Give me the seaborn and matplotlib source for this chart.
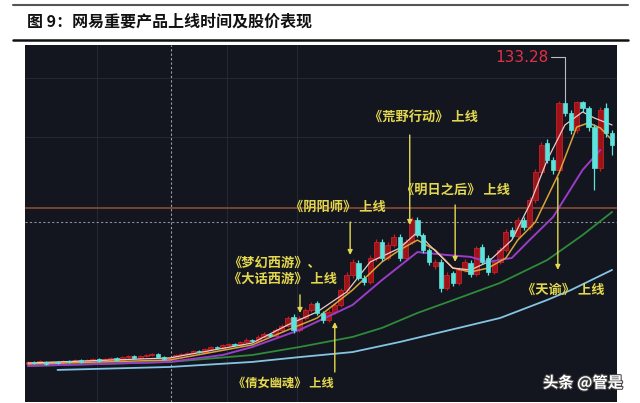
import numpy as np
import pandas as pd
import seaborn as sns
import matplotlib.pyplot as plt
from matplotlib.lines import Line2D
import matplotlib.patheffects as pe

# weekly candles (price)
open_ = [7.6, 8.6, 8.1, 8.6, 7.6, 8.6, 8.1, 9.0, 8.6, 9.5,
         8.6, 9.5, 10.0, 9.0, 10.0, 10.5, 9.5, 10.9, 11.4, 10.5,
         11.4, 11.9, 12.4, 10.9, 10.0, 10.5, 11.9, 12.4, 12.9, 13.8,
         13.3, 14.8, 15.7, 15.2, 16.7, 17.1, 16.7, 18.1, 19.0, 18.6,
         20.5, 21.9, 20.9, 23.8, 25.7, 30.0, 23.8, 29.5, 33.3, 36.7,
         31.9, 28.6, 32.4, 35.7, 42.8, 50.0, 55.7, 48.6, 46.6, 58.1,
         65.7, 58.1, 64.3, 68.1, 58.1, 65.7, 76.2, 69.0, 61.9, 54.3,
         56.2, 43.8, 50.9, 46.2, 52.4, 55.7, 50.5, 63.3, 58.1, 51.4,
         56.2, 61.9, 71.4, 68.5, 76.2, 72.8, 85.7, 99.0, 112.8, 104.7,
         100.0, 131.9, 127.1, 119.0, 132.4, 129.5, 120.4, 100.9, 129.5, 117.6]
close = [8.6, 8.1, 9.0, 7.6, 8.6, 8.3, 9.0, 8.6, 9.5, 8.6,
         9.5, 10.0, 9.0, 10.0, 10.5, 9.5, 10.9, 11.4, 10.5, 11.4,
         11.9, 12.4, 10.9, 10.0, 10.5, 11.9, 12.4, 12.9, 13.8, 13.3,
         14.8, 15.7, 15.2, 16.7, 17.1, 16.7, 18.1, 19.0, 18.6, 20.5,
         21.9, 20.9, 23.8, 25.7, 29.5, 23.8, 29.5, 33.3, 36.2, 31.9,
         28.6, 32.4, 35.7, 42.8, 50.0, 56.2, 48.6, 46.6, 58.1, 65.7,
         58.1, 64.3, 68.1, 58.1, 65.7, 76.2, 69.0, 61.9, 56.2, 56.2,
         43.8, 50.0, 46.2, 52.4, 56.2, 50.5, 62.8, 56.2, 51.4, 56.2,
         61.9, 70.4, 68.5, 76.2, 72.8, 85.7, 99.0, 111.9, 104.7, 100.0,
         131.9, 127.1, 119.0, 132.4, 129.5, 120.4, 100.9, 128.5, 117.6, 111.9]
high = [9.2, 9.0, 9.6, 9.0, 9.2, 9.0, 9.6, 9.5, 10.0, 10.0,
        10.0, 10.6, 10.5, 10.6, 11.0, 11.0, 11.5, 12.0, 11.9, 12.0,
        12.5, 13.0, 12.9, 11.5, 11.0, 12.5, 13.0, 13.5, 14.4, 14.3,
        15.4, 16.3, 16.2, 17.3, 17.8, 17.6, 18.8, 19.8, 19.6, 21.2,
        22.8, 22.4, 24.6, 26.6, 30.5, 31.2, 30.4, 34.2, 37.2, 37.8,
        32.8, 33.4, 36.8, 44.0, 51.4, 57.6, 57.0, 49.8, 59.4, 67.0,
        67.0, 65.6, 69.6, 69.4, 67.0, 77.6, 77.8, 70.2, 63.0, 57.6,
        57.6, 51.4, 52.0, 53.6, 57.4, 57.0, 64.0, 64.6, 59.4, 57.4,
        63.2, 71.8, 73.0, 77.6, 77.6, 87.2, 100.6, 113.4, 114.8, 106.2,
        132.6, 133.28, 128.6, 132.9, 133.0, 130.6, 122.0, 130.0, 131.8, 119.0]
low = [7.0, 7.5, 7.5, 7.0, 7.0, 7.6, 7.5, 8.0, 8.0, 8.0,
       8.0, 8.9, 8.4, 8.4, 9.4, 8.9, 8.9, 10.3, 9.9, 9.9,
       10.8, 11.3, 10.3, 9.4, 9.4, 9.9, 11.3, 11.8, 12.3, 12.7,
       12.7, 14.2, 14.6, 14.6, 16.1, 16.1, 16.1, 17.5, 18.0, 18.0,
       19.9, 20.3, 20.3, 23.0, 25.0, 22.4, 22.8, 28.6, 32.4, 31.0,
       27.2, 27.6, 31.4, 34.8, 41.6, 48.6, 47.4, 45.2, 45.6, 56.8,
       56.8, 57.0, 63.2, 56.6, 57.0, 64.6, 68.0, 60.6, 54.8, 53.0,
       42.0, 42.8, 44.8, 45.0, 51.2, 49.0, 49.4, 55.0, 50.0, 50.4,
       55.0, 60.8, 67.4, 67.4, 71.6, 71.6, 84.2, 97.6, 103.4, 98.0,
       98.8, 125.6, 117.0, 117.8, 127.8, 118.6, 90.4, 99.6, 115.6, 107.0]

# moving average lines (week index, price)
ma5_x = [0, 24, 38, 44, 49, 54, 58, 63, 66, 68, 72, 75, 78, 82, 85, 88, 91, 94, 96, 99]
ma5_y = [8.1, 10.5, 17.6, 26.2, 32.4, 41.9, 56.2, 62.8, 70.4, 64.3, 53.3, 52.4, 56.2, 66.6,
         83.3, 104.7, 121.4, 127.6, 124.7, 121.4]
ma10_x = [0, 24, 38, 44, 49, 55, 60, 63, 66, 69, 72, 75, 78, 81, 83, 86, 90, 93, 95, 97, 99]
ma10_y = [7.6, 9.5, 16.7, 23.8, 29.5, 42.8, 56.2, 61.9, 66.6, 61.9, 53.3, 51.4, 53.3, 58.1,
          66.6, 75.2, 98.5, 120.4, 122.4, 120.0, 114.2]
ma20_x = [0, 24, 33, 38, 46, 55, 60, 66, 71, 75, 78, 82, 85, 89, 94, 97]
ma20_y = [6.7, 8.6, 11.9, 15.7, 23.8, 35.7, 47.6, 60.9, 59.5, 58.6, 56.2, 58.1, 66.6, 77.6,
          100.0, 109.5]
ma60_x = [0, 12, 24, 38, 46, 55, 60, 66, 73, 80, 88, 94, 99]
ma60_y = [6.7, 7.6, 8.6, 11.9, 15.7, 20.5, 24.8, 31.9, 39.0, 46.2, 57.1, 69.0, 80.0]
ma120_x = [5, 24, 38, 46, 55, 63, 73, 80, 88, 92, 99]
ma120_y = [4.8, 6.2, 8.6, 10.9, 13.3, 18.1, 24.8, 29.5, 38.1, 42.8, 52.4]

events = ["《荒野行动》 上线", "《明日之后》 上线", "《阴阳师》 上线",
          "《梦幻西游》、\n《大话西游》 上线", "《倩女幽魂》 上线", "《天谕》 上线"]

bg = "#13161e"
yellow = "#e4d84e"

sns.set_theme(style="dark", rc={"axes.facecolor": bg, "figure.facecolor": "white"})
plt.rcParams['font.family'] = ['Noto Sans CJK SC', 'DejaVu Sans']

fig = plt.figure(figsize=(6.4, 4.03), dpi=100)
ax = fig.add_axes([25 / 640, 1 / 403, 592 / 640, 357 / 403])
ax.set_facecolor(bg)
ax.set_xlim(-0.51, 99.83)
ax.set_ylim(-10.47, 159.46)
ax.set_xticks([])
ax.set_yticks([])
for s in ax.spines.values():
    s.set_visible(False)

# faint grid + reference lines
for gx in [11.7, 33.7, 45.6]:
    ax.axvline(gx, color="#232838", lw=0.8, zorder=0)
for gy in [143.8, 115.7]:
    ax.axhline(gy, color="#232838", lw=0.8, zorder=0)
ax.axvline(24.2, color="#9aa0ac", lw=0.8, ls=(0, (2, 2)), zorder=1)
ax.axhline(81.9, color="#8a4a32", lw=1.2, zorder=1)
ax.axhline(75.2, color="#8a8f98", lw=0.8, ls=(0, (2, 2)), zorder=1)

df = pd.DataFrame({"open": open_, "close": close, "high": high, "low": low})
df["idx"] = np.arange(len(df))
df["up"] = df["close"] >= df["open"]
df["bottom"] = df[["open", "close"]].min(axis=1)
df["height"] = (df["close"] - df["open"]).abs().clip(lower=0.5)

# moving averages
lines = [(ma120_x, ma120_y, "#86c4e4", 1.3), (ma60_x, ma60_y, "#2f8a3a", 1.3),
         (ma20_x, ma20_y, "#9a3cc8", 1.4), (ma10_x, ma10_y, "#d9a23a", 1.1),
         (ma5_x, ma5_y, "#f0c8c8", 0.9)]
for xs, ys, c, w in lines:
    sns.lineplot(x=xs, y=ys, ax=ax, color=c, lw=w, zorder=3)

up = df[df["up"]]
dn = df[~df["up"]]
ax.vlines(up["idx"], up["low"], up["high"], color="#c21d24", lw=0.9, zorder=2)
ax.bar(up["idx"], up["height"], bottom=up["bottom"], width=0.85,
       color="#9c1418", edgecolor="#c8202a", lw=0.6, zorder=2)
ax.vlines(dn["idx"], dn["low"], dn["high"], color="#5ee2dc", lw=0.9, zorder=4)
ax.bar(dn["idx"], dn["height"], bottom=dn["bottom"], width=0.72,
       color="#5ee2dc", edgecolor="#5ee2dc", lw=0.5, zorder=4)

# event labels with arrows
aprops = dict(arrowstyle="-|>", color=yellow, lw=1.0, mutation_scale=7, shrinkA=0, shrinkB=0)
tkw = dict(color=yellow, fontsize=9.5, weight="bold", zorder=6)
ax.text(67.1, 125.2, events[0], ha="center", va="center", **tkw)
ax.annotate("", xy=(64.7, 73.8), xytext=(64.7, 116.6), arrowprops=aprops, zorder=6)
ax.text(72.5, 90.4, events[1], ha="center", va="center", **tkw)
ax.annotate("", xy=(72.4, 56.2), xytext=(72.4, 83.3), arrowprops=aprops, zorder=6)
ax.text(52.5, 82.3, events[2], ha="center", va="center", **tkw)
ax.annotate("", xy=(54.6, 59.5), xytext=(54.6, 75.2), arrowprops=aprops, zorder=6)
ax.text(33.9, 52.0, events[3], ha="left", va="center", linespacing=1.25, **tkw)
ax.annotate("", xy=(46.1, 31.9), xytext=(46.1, 40.5), arrowprops=aprops, zorder=6)
ax.text(43.2, -1.4, events[4], ha="center", va="center", **{**tkw, "fontsize": 8.8})
ax.annotate("", xy=(52.0, 27.6), xytext=(52.0, 3.8), arrowprops=aprops, zorder=6)
ax.text(90.8, 42.8, events[5], ha="center", va="center", **tkw)
ax.annotate("", xy=(89.8, 52.4), xytext=(89.8, 96.2), arrowprops=aprops, zorder=6)

# max price marker
peak = df["high"].idxmax()
ax.plot([88.6, peak, peak], [153.7, 153.7, df["high"][peak]], color="#b8bcc4", lw=0.8, zorder=5)
ax.text(88.3, 153.7, f"{df['high'][peak]:.2f}", color="#e2304a", fontsize=11,
        family="DejaVu Sans", ha="right", va="center", zorder=6)

# title block
fig.add_artist(Line2D([13 / 640, 628 / 640], [1 - 5 / 403] * 2, color="#555555", lw=1.5))
fig.add_artist(Line2D([13 / 640, 628 / 640], [1 - 40 / 403] * 2, color="#111111", lw=1.8))
fig.text(27 / 640, 1 - 22 / 403, "图 9：网易重要产品上线时间及股价表现", fontsize=11.5,
         weight="bold", color="#111111", va="center", ha="left")

fig.text(543 / 640, 1 - 383 / 403, "头条 @管是", fontsize=11, color="white", weight="bold",
         va="center", ha="left",
         path_effects=[pe.withStroke(linewidth=1.5, foreground="#444444")])

plt.savefig("out.png", dpi=100)
plt.close()
